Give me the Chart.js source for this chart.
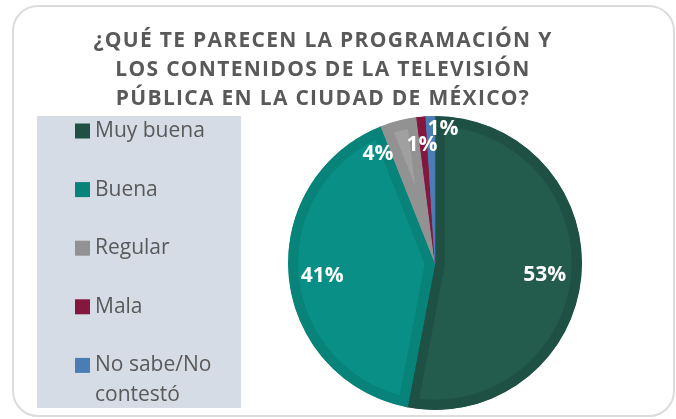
<!DOCTYPE html>
<html lang="es">
<head>
<meta charset="utf-8">
<script src="https://cdn.jsdelivr.net/npm/chart.js@4/dist/chart.umd.min.js"></script>
<style>
  html, body { margin: 0; padding: 0; background: #FFFFFF; }
  .wrap { position: relative; width: 676px; height: 419px; overflow: hidden; }
  .card { position: absolute; left: 12px; top: 5px; width: 663px; height: 412px;
          border: 2px solid #DCDCDC; border-radius: 26px; box-sizing: border-box; }
  canvas { position: absolute; left: 0; top: 0; }
</style>
</head>
<body>
<div class="wrap">
  <div class="card"></div>
  <canvas id="chart" width="676" height="419"></canvas>
</div>
<script>
// --- datos ---
const titleLines = [
  "¿QUÉ TE PARECEN LA PROGRAMACIÓN Y",
  "LOS CONTENIDOS DE LA TELEVISIÓN",
  "PÚBLICA EN LA CIUDAD DE MÉXICO?"
];
const categories = ["Muy buena", "Buena", "Regular", "Mala", "No sabe/No contestó"];
const legendLines = [["Muy buena"], ["Buena"], ["Regular"], ["Mala"], ["No sabe/No", "contestó"]];
const percents = [53, 41, 4, 1, 1];

// --- estilo ---
const fillColors   = ["#235B4D", "#0A8F86", "#A0A0A0", "#901C47", "#5288C2"];
const borderColors = ["#1E5144", "#07837A", "#929292", "#85173F", "#4A7DB4"];
const TEXT = "#595959";
const FONT = "'Open Sans', 'DejaVu Sans', sans-serif";

// posición de etiquetas: fracción del radio y giro (grados) respecto al centro del sector
const labelPos = [
  { r: 0.75, turn: 0 },
  { r: 0.77, turn: 0 },
  { r: 0.85, turn: -12.8 },
  { r: 0.82, turn: -0.8 },
  { r: 0.93, turn: 5.1 }
];

// título + panel de leyenda dibujados a mano
const panelPlugin = {
  id: "panel",
  beforeDraw(chart){
    const ctx = chart.ctx;
    ctx.save();
    ctx.fillStyle = "#D6DCE5";
    ctx.fillRect(37, 116, 204, 292);

    ctx.fillStyle = TEXT;
    ctx.textAlign = "center";
    ctx.textBaseline = "middle";
    ctx.font = "bold 21px " + FONT;
    ctx.letterSpacing = "1.3px";
    titleLines.forEach((t, i) => ctx.fillText(t, 323, 41 + i * 29));
    ctx.letterSpacing = "0px";

    ctx.textAlign = "left";
    ctx.font = "21px " + FONT;
    legendLines.forEach((lines, i) => {
      const y = 131 + i * 58.6;
      ctx.fillStyle = borderColors[i];
      ctx.fillRect(75, y - 7.5, 15, 15);
      ctx.fillStyle = TEXT;
      lines.forEach((l, j) => ctx.fillText(l, 95, y + j * 30));
    });
    ctx.restore();
  }
};

// etiquetas de porcentaje sobre los sectores
const pctLabels = {
  id: "pctLabels",
  afterDatasetsDraw(chart){
    const ctx = chart.ctx;
    const arcs = chart.getDatasetMeta(0).data;
    ctx.save();
    ctx.fillStyle = "#FFFFFF";
    ctx.font = "bold 21px " + FONT;
    ctx.textAlign = "center";
    ctx.textBaseline = "middle";
    arcs.forEach((a, i) => {
      const p = a.getProps(["x", "y", "startAngle", "endAngle", "outerRadius"], true);
      const mid = (p.startAngle + p.endAngle) / 2 + labelPos[i].turn * Math.PI / 180;
      const r = p.outerRadius * labelPos[i].r;
      ctx.fillText(percents[i] + "%", p.x + Math.cos(mid) * r, p.y + Math.sin(mid) * r + 2);
    });
    ctx.restore();
  }
};

new Chart(document.getElementById("chart"), {
  type: "pie",
  data: {
    labels: categories,
    datasets: [{
      data: percents,
      backgroundColor: fillColors,
      borderColor: borderColors,
      borderWidth: 10,
      borderAlign: "inner"
    }]
  },
  options: {
    responsive: false,
    animation: false,
    layout: { padding: { left: 288, right: 94, top: 116, bottom: 9 } },
    plugins: {
      legend: { display: false },
      title: { display: false },
      tooltip: { enabled: false }
    }
  },
  plugins: [panelPlugin, pctLabels]
});
</script>
</body>
</html>
